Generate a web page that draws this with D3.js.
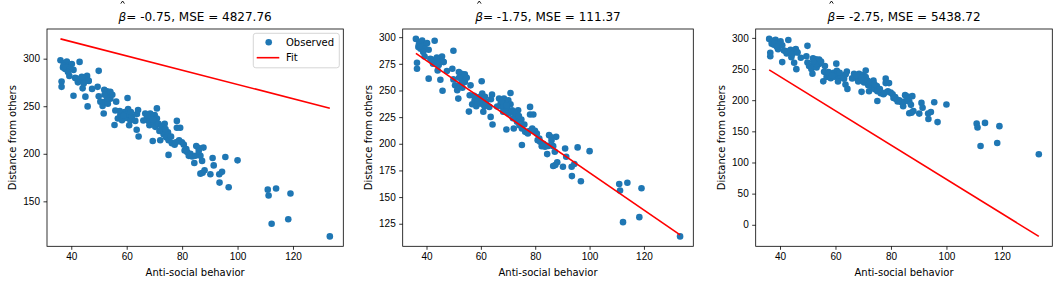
<!DOCTYPE html>
<html>
<head>
<meta charset="utf-8">
<script src="https://cdn.jsdelivr.net/npm/d3@7"></script>
<style>
body { margin:0; background:white; }
svg { font-family:"DejaVu Sans", sans-serif; }
.tick text { font-size:10px; fill:#000; }
.tick line { stroke:#000; stroke-width:0.8; }
</style>
</head>
<body>
<svg></svg>
<script>

// observed points: anti-social behavior (x) vs distance from others (y)
var antiSocial = [36.1,36.5,36.5,37.0,37.5,37.8,38.4,37.2,39.0,40.2,39.3,40.8,40.8,41.4,43.0,42.4,43.2,44.1,45.1,45.7,
  46.3,45.9,44.8,47.5,49.9,49.5,49.9,50.5,51.3,51.7,51.9,52.9,53.5,54.1,54.1,52.3,53.2,55.6,56.2,55.9,
  56.8,57.7,58.3,59.3,59.7,60.3,60.5,60.1,61.3,60.9,61.9,63.1,63.7,64.1,63.6,64.3,66.7,67.3,67.9,68.2,
  68.5,69.1,69.7,69.4,70.1,70.3,70.9,70.9,71.5,72.1,72.7,73.3,73.7,74.2,74.9,75.1,75.1,76.3,77.3,78.1,
  78.1,79.3,78.9,79.9,80.6,80.9,81.8,82.4,83.6,84.4,85.1,86.0,86.6,87.2,87.7,86.6,87.4,88.1,90.2,91.0,
  91.4,93.4,93.5,94.4,95.6,96.8,100.0,110.9,111.2,112.3,113.9,118.3,119.1,133.3,
  38.0,39.5,38.8,42.0,43.8,44.5,46.2,53.0,54.8,52.0,57.5,58.8,61.5,66.0,67.5,69.5,71.8,72.5,74.0,76.0,
  77.8,81.5,83.0,84.8,86.0];
var distance = [298.4,276.0,270.4,290.7,295.3,289.1,296.9,293.1,292.2,294.4,281.9,288.2,261.1,279.8,296.6,275.1,278.2,268.8,260.1,281.9,
  276.6,249.8,278.8,268.2,287.2,270.4,260.4,254.8,250.2,242.4,267.3,265.7,261.1,265.1,257.9,254.8,252.6,230.2,254.8,245.5,
  237.1,240.8,235.2,243.9,237.7,258.6,247.0,241.4,235.2,230.0,239.3,234.6,241.7,246.1,225.2,218.1,242.4,237.7,234.6,230.0,
  242.4,239.3,233.0,213.4,240.8,228.3,247.7,237.1,231.5,214.3,225.2,220.6,231.5,217.4,222.7,214.3,198.8,211.2,209.6,234.6,
  227.4,227.4,214.3,212.1,209.6,203.4,201.9,197.8,197.2,190.3,208.1,206.0,197.8,192.5,206.5,179.1,180.0,182.6,178.5,195.6,
  187.8,178.5,169.7,181.0,196.6,164.8,193.1,162.3,156.1,126.5,163.5,131.2,158.3,113.1,
  291,289,286,279,281,274,277,258,262,262,245,240,244,235,240,236,224,229,226,218,
  212,205,200,198,203];

// one panel per guessed slope
var betas = [-0.75, -1.75, -2.75];
var mseLabels = ["4827.76", "111.37", "5438.72"];
var intercept = 347.9;

var xTicks = [40, 60, 80, 100, 120];
var yTicksList = [
  [150, 200, 250, 300],
  [125, 150, 175, 200, 225, 250, 275, 300],
  [0, 50, 100, 150, 200, 250, 300]
];

var svg = d3.select("svg")
  .attr("width", 1058)
  .attr("height", 284);

// where each axes box sits in the figure
var boxes = [
  {left:47, right:343.3},
  {left:402.7, right:693.3},
  {left:755.7, right:1052.3}
];
var plotTop = 29, plotBottom = 246.3;

// matplotlib style 5% margin round the data
var padded = function(ext)
{
  var d = (ext[1] - ext[0]) * 0.05;
  return [ext[0] - d, ext[1] + d];
}

var drawPanel = function(i)
{
  var box = boxes[i];
  var beta = betas[i];
  var xExt = d3.extent(antiSocial);
  var fitEnds = xExt.map(function(x){ return intercept + beta * x; });
  var yExt = d3.extent(distance.concat(fitEnds));

  var xScale = d3.scaleLinear()
    .domain(padded(xExt))
    .range([box.left, box.right]);
  var yScale = d3.scaleLinear()
    .domain(padded(yExt))
    .range([plotBottom, plotTop]);

  var g = svg.append("g").classed("panel", true);

  g.append("clipPath").attr("id", "clip" + i)
    .append("rect")
    .attr("x", box.left).attr("y", plotTop)
    .attr("width", box.right - box.left)
    .attr("height", plotBottom - plotTop);

  var plot = g.append("g").attr("clip-path", "url(#clip" + i + ")");

  plot.selectAll("circle")
    .data(antiSocial)
    .enter()
    .append("circle")
    .attr("cx", function(x){ return xScale(x); })
    .attr("cy", function(x, j){ return yScale(distance[j]); })
    .attr("r", 3.3)
    .attr("fill", "#1f77b4");

  var line = d3.line()
    .x(function(x){ return xScale(x); })
    .y(function(x){ return yScale(intercept + beta * x); });

  plot.append("path")
    .datum(xExt)
    .attr("d", line)
    .attr("fill", "none")
    .attr("stroke", "red")
    .attr("stroke-width", 1.6);

  // spines
  g.append("rect")
    .attr("x", box.left).attr("y", plotTop)
    .attr("width", box.right - box.left)
    .attr("height", plotBottom - plotTop)
    .attr("fill", "none")
    .attr("stroke", "#000")
    .attr("stroke-width", 0.8);

  var xAxis = g.append("g")
    .attr("transform", "translate(0," + plotBottom + ")")
    .call(d3.axisBottom(xScale).tickValues(xTicks).tickSize(3.5).tickPadding(3.5));
  xAxis.select(".domain").remove();

  var yAxis = g.append("g")
    .attr("transform", "translate(" + box.left + ",0)")
    .call(d3.axisLeft(yScale).tickValues(yTicksList[i]).tickSize(3.5).tickPadding(3.5));
  yAxis.select(".domain").remove();
  yAxis.selectAll("text").attr("font-family", null).attr("font-size", null);
  xAxis.selectAll("text").attr("font-family", null).attr("font-size", null);

  var mid = (box.left + box.right) / 2;

  g.append("text")
    .text("Anti-social behavior")
    .attr("x", mid)
    .attr("y", 275.5)
    .attr("text-anchor", "middle")
    .attr("font-size", 10);

  // y label goes left of the widest tick label
  var widest = d3.max(yAxis.selectAll("text").nodes(), function(n){ return n.getBBox().width; });
  var labelX = box.left - 7 - widest - 4 - 2.4;
  g.append("text")
    .text("Distance from others")
    .attr("text-anchor", "middle")
    .attr("font-size", 10)
    .attr("transform", "translate(" + labelX + "," + ((plotTop + plotBottom) / 2) + ") rotate(-90)");

  // title with beta hat
  var title = g.append("text")
    .attr("x", mid)
    .attr("y", 21)
    .attr("text-anchor", "middle")
    .attr("font-size", 12);
  title.append("tspan")
    .attr("font-style", "italic")
    .text("β");
  title.append("tspan")
    .text("= " + beta.toFixed(2) + ", MSE = " + mseLabels[i]);

  var bx = title.node().getStartPositionOfChar(0).x;
  g.append("path")
    .attr("d", "M" + (bx + 2.2) + ",3.6 L" + (bx + 4) + ",1 L" + (bx + 5.8) + ",3.6")
    .attr("fill", "none")
    .attr("stroke", "#000")
    .attr("stroke-width", 0.9);

  return g;
}

var drawLegend = function(g)
{
  var lg = g.append("g").classed("legend", true);
  lg.append("rect")
    .attr("x", 253.3).attr("y", 33.3)
    .attr("width", 86).attr("height", 34.5)
    .attr("rx", 2.5)
    .attr("fill", "white").attr("fill-opacity", 0.8)
    .attr("stroke", "#cccccc").attr("stroke-width", 0.8);
  lg.append("circle")
    .attr("cx", 268.7).attr("cy", 42.2)
    .attr("r", 3.3)
    .attr("fill", "#1f77b4");
  lg.append("text")
    .text("Observed")
    .attr("x", 286).attr("y", 45.8)
    .attr("font-size", 10);
  lg.append("line")
    .attr("x1", 256.7).attr("x2", 279.3)
    .attr("y1", 57.7).attr("y2", 57.7)
    .attr("stroke", "red").attr("stroke-width", 1.6);
  lg.append("text")
    .text("Fit")
    .attr("x", 286).attr("y", 61.3)
    .attr("font-size", 10);
}

var panels = betas.map(function(b, i){ return drawPanel(i); });
drawLegend(panels[0]);

</script>
</body>
</html>
